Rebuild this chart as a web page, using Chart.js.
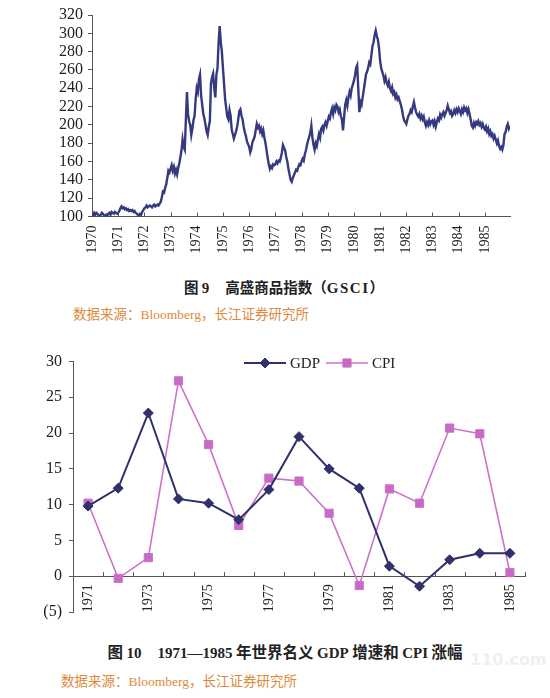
<!DOCTYPE html>
<html>
<head>
<meta charset="utf-8">
<script src="https://cdn.jsdelivr.net/npm/chart.js@4.4.0/dist/chart.umd.min.js"></script>
<style>
html, body { margin: 0; padding: 0; background: #fff; }
body { width: 550px; height: 698px; position: relative; overflow: hidden;
       font-family: "Liberation Serif", "Noto Sans CJK SC", serif; }
.box { position: absolute; left: 0; width: 550px; }
#topBox { top: 0; height: 265px; }
#bottomBox { top: 340px; height: 290px; }
.cap { position: absolute; font-weight: bold; color: #222; white-space: nowrap;
       line-height: 18px; transform: translateX(-50%);
       font-family: "Noto Sans CJK SC", sans-serif; }
.cap .lat { font-family: "Liberation Serif", serif; font-size: 15px; }
.cap .gap { margin-left: 16px; }
.src { position: absolute; font-size: 13.5px; color: #dd8a3c; white-space: nowrap; line-height: 18px; }
.mark { position: absolute; left: 470px; top: 650px; font: bold 16px "DejaVu Sans", sans-serif; color: #efefef; }
</style>
</head>
<body>
<div class="box" id="topBox"><canvas id="gsci" width="550" height="265"></canvas></div>
<div class="cap" style="left:284px; top:278px; font-size:14.5px;">图 <span class="lat">9</span><span class="gap">高盛商品指数（</span><span class="lat" style="letter-spacing:1.5px;">GSCI</span>）</div>
<div class="src" style="left:73px; top:306px;">数据来源：Bloomberg，长江证券研究所</div>

<div class="box" id="bottomBox"><canvas id="macro" width="550" height="290"></canvas></div>
<div class="mark">110.com</div>
<div class="cap" style="left:285px; top:642px; font-size:15.5px;">图 <span class="lat">10</span><span class="gap lat">1971—1985</span> 年世界名义 <span class="lat">GDP</span> 增速和 <span class="lat">CPI</span> 涨幅</div>
<div class="src" style="left:61px; top:673px;">数据来源：Bloomberg，长江证券研究所</div>

<script>
(function() {
    'use strict';

    // GSCI, two values per month, one row per year
    var gsciStartYear = 1970;
    var gsciStepsPerYear = 24;
    var gsciValues = [
        103,101,104,102,104,103,101,100,102,104,103,101,100,102,101,103,104,102,105,104,103,105,104,103,
        104,106,109,111,109,110,108,109,107,108,106,107,106,107,105,106,104,103,102,101,103,102,105,107,
        109,110,112,110,111,112,111,110,112,113,111,112,113,112,114,116,121,127,126,131,135,142,150,148,
        152,156,150,154,147,151,146,153,158,165,172,184,176,173,205,236,212,204,200,189,196,205,210,228,
        240,236,250,255,232,222,212,207,200,193,189,198,204,245,252,256,240,230,255,262,290,308,290,280,
        262,245,228,218,209,206,216,210,195,190,185,189,193,198,206,215,217,210,206,198,192,188,182,179,
        176,170,174,181,184,187,194,201,197,199,193,196,190,194,186,180,172,164,157,152,155,153,157,156,
        157,160,158,161,160,164,170,178,175,172,165,160,152,146,140,138,142,145,148,151,150,154,157,156,
        160,163,161,168,172,178,183,187,191,199,186,178,173,180,177,184,190,186,196,198,194,200,203,199,
        204,209,207,214,218,212,219,216,222,220,214,217,210,206,194,208,222,227,221,230,236,232,240,244,
        248,254,262,265,240,214,225,222,230,238,246,255,258,262,268,266,276,286,290,298,303,297,293,284,
        270,262,258,254,248,252,246,243,247,240,237,241,234,236,230,233,228,230,226,222,217,210,205,203,
        201,206,210,212,216,214,220,225,219,214,211,209,212,207,210,206,209,203,199,203,200,205,201,204,
        205,200,204,198,203,207,205,211,208,212,214,210,213,216,221,217,213,215,210,212,216,213,217,214,
        218,215,212,217,214,219,216,218,213,217,212,206,199,197,202,199,203,201,204,200,202,198,201,197,
        195,198,193,196,190,193,188,190,185,188,184,180,183,177,174,176,173,178,190,192,198,201,196,199
    ];
    var gsciTickYears = [1970,1971,1972,1973,1974,1975,1976,1977,1978,1979,1980,1981,1982,1983,1984,1985];

    // GDP / CPI growth
    var years = ['1971','1972','1973','1974','1975','1976','1977','1978','1979','1980','1981','1982','1983','1984','1985'];
    var gdpGrowth = [9.8, 12.3, 22.8, 10.8, 10.2, 7.9, 12.1, 19.5, 15.0, 12.3, 1.4, -1.4, 2.3, 3.2, 3.2];
    var cpiGrowth = [10.2, -0.3, 2.6, 27.3, 18.4, 7.1, 13.7, 13.3, 8.8, -1.3, 12.2, 10.2, 20.7, 19.9, 0.5];

    var axisColor = '#555';
    var textColor = '#222';
    var serif = 'Liberation Serif';

    // small tick marks pointing up from the x axis
    var innerTicks = {
        id: 'innerTicks',
        afterDraw: function(chart, args, opts) {
            var xs = chart.scales.x;
            var y0 = opts.atZero ? chart.scales.y.getPixelForValue(0) : chart.chartArea.bottom;
            var ctx = chart.ctx;
            ctx.save();
            ctx.strokeStyle = axisColor;
            ctx.lineWidth = 1;
            ctx.beginPath();
            opts.values.forEach(function(v) {
                var px = Math.round(xs.getPixelForValue(v)) + 0.5;
                ctx.moveTo(px, y0);
                ctx.lineTo(px, y0 - 4);
            });
            ctx.stroke();
            ctx.restore();
        }
    };

    // line + marker legend like the spreadsheet one
    var lineLegend = {
        id: 'lineLegend',
        afterDraw: function(chart, args, opts) {
            var ctx = chart.ctx;
            var y = opts.y;
            ctx.save();
            ctx.font = '15px "' + serif + '"';
            ctx.textBaseline = 'middle';
            chart.data.datasets.forEach(function(ds, i) {
                var x0 = opts.x[i];
                ctx.strokeStyle = ds.borderColor;
                ctx.lineWidth = ds.borderWidth;
                ctx.beginPath();
                ctx.moveTo(x0, y);
                ctx.lineTo(x0 + 42, y);
                ctx.stroke();
                ctx.fillStyle = ds.backgroundColor;
                ctx.lineWidth = 1;
                Chart.helpers.drawPoint(ctx, {
                    pointStyle: ds.pointStyle,
                    radius: ds.pointRadius,
                    borderWidth: 1
                }, x0 + 21, y);
                ctx.fillStyle = textColor;
                ctx.fillText(ds.label, x0 + 46, y + 1);
            });
            ctx.restore();
        }
    };

    new Chart(document.getElementById('gsci'), {
        type: 'line',
        data: {
            datasets: [{
                label: 'GSCI',
                data: gsciValues.map(function(v, i) {
                    return { x: gsciStartYear + i / gsciStepsPerYear, y: v };
                }),
                borderColor: '#353a80',
                borderWidth: 2.4,
                pointRadius: 0,
                tension: 0
            }]
        },
        options: {
            responsive: false,
            animation: false,
            layout: { padding: { top: 15, right: 40, left: 0, bottom: 0 } },
            plugins: {
                legend: { display: false },
                tooltip: { enabled: false },
                innerTicks: { values: gsciTickYears.slice(1), atZero: false }
            },
            scales: {
                x: {
                    type: 'linear',
                    min: 1970,
                    max: 1985.96,
                    afterBuildTicks: function(scale) {
                        scale.ticks = gsciTickYears.map(function(v) { return { value: v }; });
                    },
                    afterFit: function(scale) { scale.height = 48.5; },
                    grid: { drawOnChartArea: false, drawTicks: false },
                    border: { color: axisColor },
                    ticks: {
                        autoSkip: false,
                        minRotation: 90,
                        maxRotation: 90,
                        padding: 9,
                        color: textColor,
                        font: { family: serif, size: 14 },
                        callback: function(v) { return String(v); }
                    }
                },
                y: {
                    min: 100,
                    max: 320,
                    afterFit: function(scale) { scale.width = 92; },
                    grid: { drawOnChartArea: false, drawTicks: true, tickLength: 4, color: axisColor },
                    border: { color: axisColor },
                    ticks: {
                        stepSize: 20,
                        autoSkip: false,
                        padding: 5,
                        color: textColor,
                        font: { family: serif, size: 16 }
                    }
                }
            }
        },
        plugins: [innerTicks]
    });

    var boundaries = years.map(function(y, i) { return i + 0.5; });

    new Chart(document.getElementById('macro'), {
        type: 'line',
        data: {
            labels: years,
            datasets: [{
                label: 'GDP',
                data: gdpGrowth,
                borderColor: '#30316a',
                backgroundColor: '#30316a',
                borderWidth: 2,
                pointStyle: 'rectRot',
                pointRadius: 5,
                pointBorderWidth: 1,
                tension: 0
            }, {
                label: 'CPI',
                data: cpiGrowth,
                borderColor: '#cc72ca',
                backgroundColor: '#c76ac6',
                borderWidth: 1.6,
                pointStyle: 'rect',
                pointRadius: 5.8,
                pointBorderWidth: 1,
                tension: 0
            }]
        },
        options: {
            responsive: false,
            animation: false,
            layout: { padding: { top: 21.5, right: 25, left: 0, bottom: 18 } },
            plugins: {
                legend: { display: false },
                tooltip: { enabled: false },
                innerTicks: { values: boundaries, atZero: true },
                lineLegend: { x: [244, 326], y: 23 }
            },
            scales: {
                x: {
                    type: 'category',
                    offset: true,
                    position: { y: 0 },
                    grid: { drawOnChartArea: false, drawTicks: false, offset: true },
                    border: { color: axisColor },
                    ticks: {
                        autoSkip: false,
                        minRotation: 90,
                        maxRotation: 90,
                        padding: 8,
                        color: textColor,
                        font: { family: serif, size: 14 },
                        callback: function(v, i) { return i % 2 === 0 ? years[i] : ''; }
                    }
                },
                y: {
                    min: -5,
                    max: 30,
                    afterFit: function(scale) { scale.width = 73; },
                    grid: { drawOnChartArea: false, drawTicks: true, tickLength: 4, color: axisColor },
                    border: { color: axisColor },
                    ticks: {
                        stepSize: 5,
                        autoSkip: false,
                        padding: 7,
                        color: textColor,
                        font: { family: serif, size: 16 },
                        callback: function(v) { return v < 0 ? '(' + Math.abs(v) + ')' : String(v); }
                    }
                }
            }
        },
        plugins: [innerTicks, lineLegend]
    });
})();
</script>
</body>
</html>
